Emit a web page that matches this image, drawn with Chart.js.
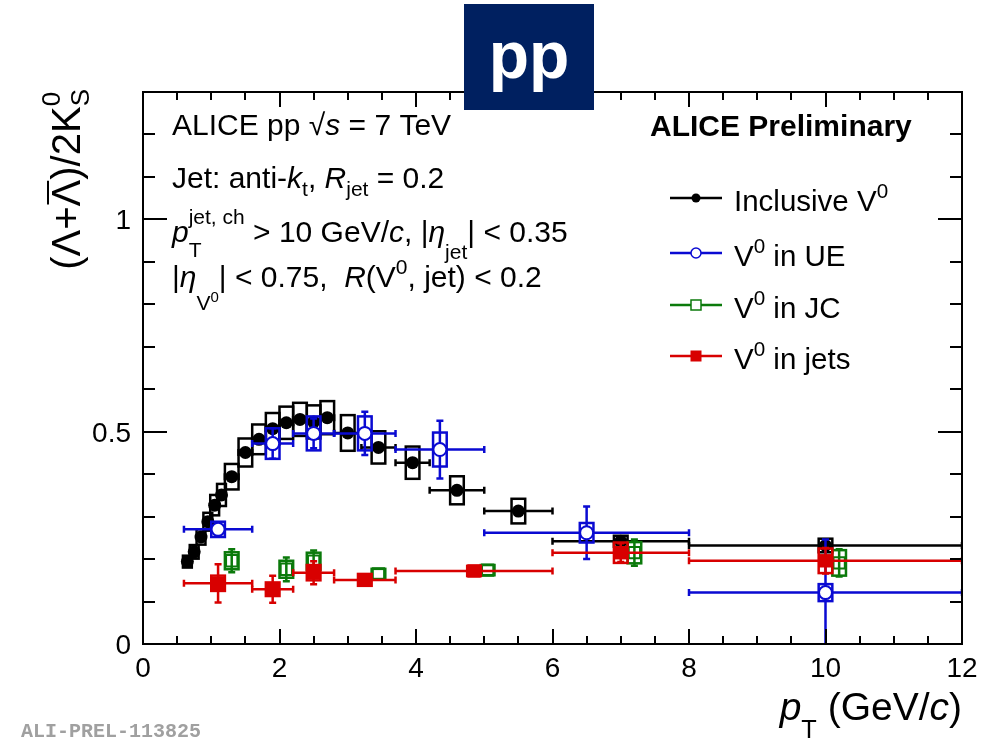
<!DOCTYPE html>
<html>
<head>
<meta charset="utf-8">
<script src="https://cdn.jsdelivr.net/npm/chart.js@4.4.0/dist/chart.umd.min.js"></script>
<style>
  html, body { margin: 0; padding: 0; background: #fff; }
</style>
</head>
<body>
<canvas id="chart" width="992" height="740"></canvas>
<script>
// axis ticks
const xTicks = [0, 2, 4, 6, 8, 10, 12];
const xTickLabels = ['0', '2', '4', '6', '8', '10', '12'];
const yTicks = [0, 0.5, 1];
const yTickLabels = ['0', '0.5', '1'];

// Inclusive V0
const incX    = [0.65, 0.75, 0.85, 0.95, 1.05, 1.15, 1.3, 1.5, 1.7, 1.9, 2.1, 2.3, 2.5, 2.7, 3.0, 3.45, 3.95, 4.6, 5.5, 7.0, 10.0];
const incLo   = [0.6, 0.7, 0.8, 0.9, 1.0, 1.1, 1.2, 1.4, 1.6, 1.8, 2.0, 2.2, 2.4, 2.6, 2.8, 3.2, 3.7, 4.2, 5.0, 6.0, 8.0];
const incHi   = [0.7, 0.8, 0.9, 1.0, 1.1, 1.2, 1.4, 1.6, 1.8, 2.0, 2.2, 2.4, 2.6, 2.8, 3.2, 3.7, 4.2, 5.0, 6.0, 8.0, 12.0];
const incY    = [0.194, 0.217, 0.252, 0.288, 0.327, 0.351, 0.394, 0.451, 0.482, 0.507, 0.521, 0.529, 0.523, 0.533, 0.497, 0.463, 0.427, 0.362, 0.313, 0.242, 0.232];
const incStat = [0.003, 0.003, 0.003, 0.003, 0.003, 0.003, 0.003, 0.004, 0.004, 0.004, 0.005, 0.005, 0.005, 0.006, 0.006, 0.007, 0.008, 0.009, 0.01, 0.01, 0.012];
const incSys  = [0.014, 0.016, 0.018, 0.021, 0.024, 0.026, 0.03, 0.033, 0.035, 0.037, 0.038, 0.039, 0.039, 0.039, 0.042, 0.038, 0.038, 0.033, 0.029, 0.013, 0.016];

// V0 in UE
const ueX    = [1.1, 1.9, 2.5, 3.25, 4.35, 6.5, 10.0];
const ueLo   = [0.6, 1.6, 2.2, 2.8, 3.7, 5.0, 8.0];
const ueHi   = [1.6, 2.2, 2.8, 3.7, 5.0, 8.0, 12.0];
const ueY    = [0.270, 0.472, 0.496, 0.496, 0.458, 0.262, 0.121];
const ueStat = [0.01, 0.036, 0.035, 0.051, 0.068, 0.062, 0.125];
const ueSys  = [0.018, 0.036, 0.04, 0.04, 0.04, 0.023, 0.02];

// V0 in JC (drawn shifted, no x bars)
const jcX    = [1.3, 2.1, 2.5, 3.45, 5.05, 7.2, 10.2];
const jcY    = [0.196, 0.176, 0.195, 0.165, 0.174, 0.215, 0.191];
const jcStat = [0.027, 0.028, 0.025, 0.01, 0.01, 0.031, 0.032];
const jcSys  = [0.02, 0.02, 0.02, 0.012, 0.012, 0.025, 0.03];

// V0 in jets
const jetX    = [1.1, 1.9, 2.5, 3.25, 4.85, 7.0, 10.0];
const jetLo   = [0.6, 1.6, 2.2, 2.8, 3.7, 6.0, 8.0];
const jetHi   = [1.6, 2.2, 2.8, 3.7, 6.0, 8.0, 12.0];
const jetY    = [0.143, 0.129, 0.168, 0.151, 0.172, 0.215, 0.196];
const jetStat = [0.045, 0.032, 0.027, 0.012, 0.01, 0.022, 0.03];
const jetSys  = [0.018, 0.016, 0.018, 0.014, 0.012, 0.024, 0.029];

const FONT = '"Liberation Sans", Arial, sans-serif';
function font(size, italic, bold) {
    return (italic ? 'italic ' : '') + (bold ? 'bold ' : '') + size + 'px ' + FONT;
}

// draw text made of pieces (italic / sub / sup), returns width
function drawRich(ctx, x, y, parts, size, measureOnly) {
    let cx = x;
    parts.forEach(p => {
        if (typeof p === 'string') p = { t: p };
        if (p.stack) {
            let w = 0;
            p.stack.forEach(q => {
                ctx.font = font(size * (q.s || 1), q.i);
                if (!measureOnly) ctx.fillText(q.t, cx, y + (q.dy || 0) * size);
                w = Math.max(w, ctx.measureText(q.t).width);
            });
            cx += w;
            return;
        }
        ctx.font = font(size * (p.s || 1), p.i);
        const w = ctx.measureText(p.t).width;
        if (!measureOnly) {
            ctx.fillText(p.t, cx, y + (p.dy || 0) * size);
            if (p.bar) {
                ctx.save();
                ctx.lineWidth = 2;
                ctx.strokeStyle = ctx.fillStyle;
                ctx.beginPath();
                ctx.moveTo(cx + 2, y - size * 0.8);
                ctx.lineTo(cx + w - 1, y - size * 0.8);
                ctx.stroke();
                ctx.restore();
            }
        }
        cx += w;
    });
    return cx - x;
}

const series = [
    { x: incX, y: incY, lo: incLo, hi: incHi, stat: incStat, sys: incSys, color: '#000000' },
    { x: ueX, y: ueY, lo: ueLo, hi: ueHi, stat: ueStat, sys: ueSys, color: '#0a0ad2' },
    { x: jcX, y: jcY, lo: null, hi: null, stat: jcStat, sys: jcSys, color: '#0b7a0b' },
    { x: jetX, y: jetY, lo: jetLo, hi: jetHi, stat: jetStat, sys: jetSys, color: '#d80000' }
];

const errorPlugin = {
    id: 'errors',
    beforeDatasetDraw(chart, args) {
        const s = series[args.index];
        const ctx = chart.ctx;
        const xs = chart.scales.x, ys = chart.scales.y;
        const area = chart.chartArea;
        ctx.save();
        ctx.beginPath();
        ctx.rect(area.left, area.top, area.right - area.left, area.bottom - area.top);
        ctx.clip();
        ctx.strokeStyle = s.color;
        ctx.lineWidth = 2.5;
        s.x.forEach((xv, i) => {
            const px = xs.getPixelForValue(xv);
            const py = ys.getPixelForValue(s.y[i]);
            // systematic box
            let half = 0.1;
            if (s.lo) half = Math.min(0.1, (s.hi[i] - s.lo[i]) / 2 + 0.015);
            const bx0 = xs.getPixelForValue(xv - half), bx1 = xs.getPixelForValue(xv + half);
            const by0 = ys.getPixelForValue(s.y[i] + s.sys[i]), by1 = ys.getPixelForValue(s.y[i] - s.sys[i]);
            ctx.strokeRect(bx0, by0, bx1 - bx0, by1 - by0);
            // horizontal bar
            if (s.lo) {
                const x0 = xs.getPixelForValue(s.lo[i]), x1 = xs.getPixelForValue(s.hi[i]);
                ctx.beginPath();
                ctx.moveTo(x0, py); ctx.lineTo(x1, py);
                ctx.moveTo(x0, py - 3.5); ctx.lineTo(x0, py + 3.5);
                ctx.moveTo(x1, py - 3.5); ctx.lineTo(x1, py + 3.5);
                ctx.stroke();
            }
            // vertical bar
            const y0 = ys.getPixelForValue(s.y[i] + s.stat[i]), y1 = ys.getPixelForValue(s.y[i] - s.stat[i]);
            if (y1 - y0 > 10) {
                ctx.beginPath();
                ctx.moveTo(px, y0); ctx.lineTo(px, y1);
                ctx.moveTo(px - 3.5, y0); ctx.lineTo(px + 3.5, y0);
                ctx.moveTo(px - 3.5, y1); ctx.lineTo(px + 3.5, y1);
                ctx.stroke();
            }
        });
        ctx.restore();
    },
    afterDraw(chart) {
        const ctx = chart.ctx;
        const xs = chart.scales.x, ys = chart.scales.y;
        const a = chart.chartArea;
        ctx.save();
        ctx.strokeStyle = '#000';
        ctx.fillStyle = '#000';
        ctx.lineWidth = 2;

        // ticks, all four sides, pointing inwards
        ctx.beginPath();
        for (let v = 0; v <= 12.001; v += 0.5) {
            const px = Math.round(xs.getPixelForValue(v));
            const len = Math.abs(v / 2 - Math.round(v / 2)) < 1e-6 ? 15 : 8;
            ctx.moveTo(px, a.bottom); ctx.lineTo(px, a.bottom - len);
            ctx.moveTo(px, a.top); ctx.lineTo(px, a.top + len);
        }
        for (let k = 0; k <= 13; k++) {
            const v = k / 10;
            const py = Math.round(ys.getPixelForValue(v));
            const len = k % 5 === 0 ? 24 : 12;
            ctx.moveTo(a.left, py); ctx.lineTo(a.left + len, py);
            ctx.moveTo(a.right, py); ctx.lineTo(a.right - len, py);
        }
        ctx.stroke();
        ctx.strokeRect(a.left, a.top, a.right - a.left, a.bottom - a.top);

        // tick labels
        ctx.font = font(28);
        ctx.textAlign = 'center';
        ctx.textBaseline = 'alphabetic';
        xTicks.forEach((v, i) => ctx.fillText(xTickLabels[i], xs.getPixelForValue(v), a.bottom + 33));
        ctx.textAlign = 'right';
        yTicks.forEach((v, i) => ctx.fillText(yTickLabels[i], a.left - 12, ys.getPixelForValue(v) + 10));

        ctx.textAlign = 'left';
        // x title
        const xt = [{ t: 'p', i: true }, { t: 'T', s: 0.65, dy: 0.45 }, ' (GeV/', { t: 'c', i: true }, ')'];
        const xw = drawRich(ctx, 0, 0, xt, 39, true);
        drawRich(ctx, a.right - xw, 720, xt, 39);

        // y title, rotated
        const yt = ['(Λ+', { t: 'Λ', bar: true }, ')/2K', { stack: [{ t: '0', s: 0.65, dy: -0.5 }, { t: 'S', s: 0.65, dy: 0.22 }] }];
        const yw = drawRich(ctx, 0, 0, yt, 40, true);
        ctx.save();
        ctx.translate(80, 89);
        ctx.rotate(-Math.PI / 2);
        drawRich(ctx, -yw, 0, yt, 40);
        ctx.restore();

        // info text
        const fs = 30;
        drawRich(ctx, 172, 135, ['ALICE pp ', '√', { t: 's', i: true }, ' = 7 TeV'], fs);
        drawRich(ctx, 172, 188, ['Jet: anti-', { t: 'k', i: true }, { t: 't', s: 0.7, dy: 0.25 }, ', ',
            { t: 'R', i: true }, { t: 'jet', s: 0.7, dy: 0.25 }, ' = 0.2'], fs);
        drawRich(ctx, 172, 242, [{ t: 'p', i: true },
            { stack: [{ t: 'jet, ch', s: 0.7, dy: -0.6 }, { t: 'T', s: 0.7, dy: 0.5 }] },
            ' > 10 GeV/', { t: 'c', i: true }, ', |', { t: 'η', i: true },
            { t: 'jet', s: 0.7, dy: 0.55 }, '| < 0.35'], fs);
        drawRich(ctx, 172, 287, ['|', { t: 'η', i: true }, { t: 'V', s: 0.7, dy: 0.75 },
            { t: '0', s: 0.5, dy: 0.5 }, '| < 0.75,  ', { t: 'R', i: true }, '(V',
            { t: '0', s: 0.7, dy: -0.45 }, ', jet) < 0.2'], fs);

        ctx.font = font(30, false, true);
        ctx.fillText('ALICE Preliminary', 650, 136);

        // legend
        const legend = [
            ['Inclusive V', { t: '0', s: 0.7, dy: -0.45 }],
            ['V', { t: '0', s: 0.7, dy: -0.45 }, ' in UE'],
            ['V', { t: '0', s: 0.7, dy: -0.45 }, ' in JC'],
            ['V', { t: '0', s: 0.7, dy: -0.45 }, ' in jets']
        ];
        const legY = [211, 266, 318, 369];
        legend.forEach((parts, i) => {
            const c = series[i].color;
            const ly = legY[i] - 13;
            ctx.strokeStyle = c;
            ctx.lineWidth = 2.5;
            ctx.beginPath();
            ctx.moveTo(670, ly); ctx.lineTo(722, ly);
            ctx.stroke();
            ctx.lineWidth = 1.5;
            if (i === 0) {
                ctx.fillStyle = c;
                ctx.beginPath(); ctx.arc(696, ly, 4.5, 0, Math.PI * 2); ctx.fill();
            } else if (i === 1) {
                ctx.fillStyle = '#fff';
                ctx.beginPath(); ctx.arc(696, ly, 5, 0, Math.PI * 2); ctx.fill(); ctx.stroke();
            } else if (i === 2) {
                ctx.fillStyle = '#fff';
                ctx.fillRect(691, ly - 5, 10, 10); ctx.strokeRect(691, ly - 5, 10, 10);
            } else {
                ctx.fillStyle = c;
                ctx.fillRect(690.5, ly - 5.5, 11, 11);
            }
            ctx.fillStyle = '#000';
            drawRich(ctx, 734, legY[i], parts, 29.5);
        });

        // pp badge
        ctx.fillStyle = '#002060';
        ctx.fillRect(464, 4, 130, 106);
        ctx.fillStyle = '#fff';
        ctx.font = font(66, false, true);
        ctx.textAlign = 'center';
        ctx.fillText('pp', 529, 78);

        // figure id
        ctx.fillStyle = '#a0a0a0';
        ctx.textAlign = 'left';
        ctx.font = 'bold 20px "Liberation Mono", "Courier New", monospace';
        ctx.fillText('ALI-PREL-113825', 21, 737);
        ctx.restore();
    }
};

const toPoints = (xs, ys) => xs.map((x, i) => ({ x: x, y: ys[i] }));

new Chart(document.getElementById('chart'), {
    type: 'scatter',
    data: {
        datasets: [
            { label: 'Inclusive V0', data: toPoints(incX, incY), order: 4,
              pointStyle: 'circle', pointRadius: 6.5, backgroundColor: '#000', borderColor: '#000', borderWidth: 0 },
            { label: 'V0 in UE', data: toPoints(ueX, ueY), order: 3,
              pointStyle: 'circle', pointRadius: 6.5, backgroundColor: '#fff', borderColor: '#0a0ad2', borderWidth: 2 },
            { label: 'V0 in JC', data: toPoints(jcX, jcY), order: 2,
              pointStyle: 'rect', pointRadius: 8, backgroundColor: 'rgba(0,0,0,0)', borderColor: '#0b7a0b', borderWidth: 2 },
            { label: 'V0 in jets', data: toPoints(jetX, jetY), order: 1,
              pointStyle: 'rect', pointRadius: 9.5, backgroundColor: '#d80000', borderColor: '#d80000', borderWidth: 0 }
        ]
    },
    options: {
        responsive: false,
        animation: false,
        devicePixelRatio: 1,
        layout: { padding: { left: 143, right: 30, top: 92, bottom: 96 } },
        scales: {
            x: { type: 'linear', min: 0, max: 12, display: false },
            y: { type: 'linear', min: 0, max: 1.3, display: false }
        },
        plugins: { legend: { display: false }, tooltip: { enabled: false } }
    },
    plugins: [errorPlugin]
});
</script>
</body>
</html>
